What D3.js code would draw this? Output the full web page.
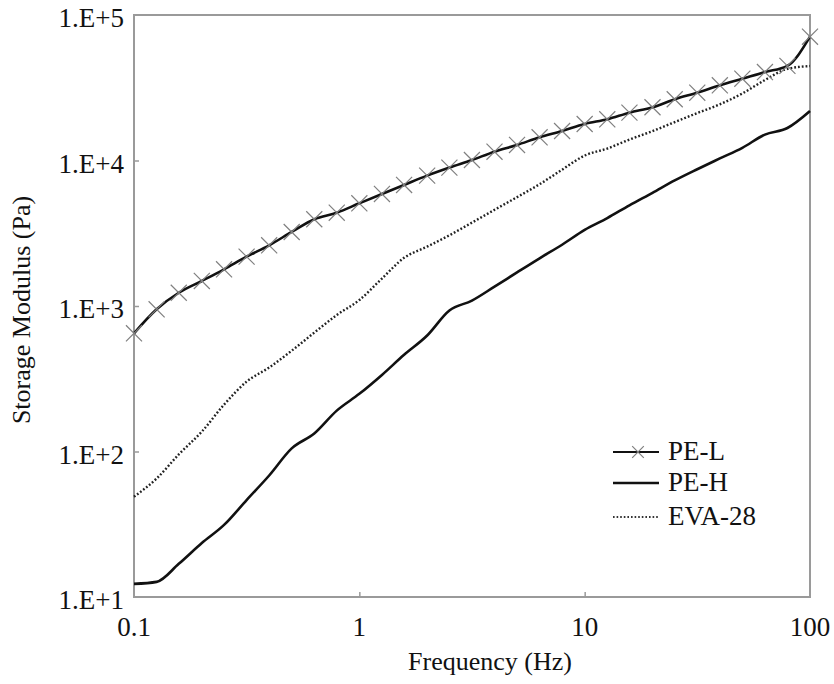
<!DOCTYPE html>
<html>
<head>
<meta charset="utf-8">
<script src="https://cdn.jsdelivr.net/npm/d3@7"></script>
<style>
  body { margin: 0; background: #fff; }
</style>
</head>
<body>
<svg id="chart" width="834" height="684"></svg>
<script>
'use strict';

// frequency grid (Hz), 10 points per decade
const freq = [0.1, 0.126, 0.158, 0.2, 0.251, 0.316, 0.398, 0.501, 0.631, 0.794,
  1, 1.26, 1.58, 2, 2.51, 3.16, 3.98, 5.01, 6.31, 7.94,
  10, 12.6, 15.8, 20, 25.1, 31.6, 39.8, 50.1, 63.1, 79.4, 100];

// storage modulus (Pa)
const peL = [649, 949, 1233, 1486, 1787, 2183, 2614, 3226, 3946, 4378,
  5080, 5890, 6792, 7870, 8932, 10080, 11490, 12790, 14430, 15950,
  17820, 19200, 21320, 23220, 26360, 29250, 32880, 36500, 40560, 44700, 70960];
const peH = [12.3, 12.7, 16.9, 23.5, 31.3, 46.4, 68.4, 105, 133, 191,
  249, 336, 462, 627, 931, 1089, 1358, 1702, 2128, 2636,
  3334, 4018, 4920, 5998, 7295, 8710, 10330, 12230, 15070, 16720, 21880];
const eva = [48.9, 65.2, 95.5, 137, 210, 302, 378, 493, 656, 867,
  1099, 1545, 2143, 2559, 3062, 3741, 4581, 5598, 6871, 8650,
  10820, 12080, 13930, 15920, 18360, 21190, 24320, 28900, 35730, 42660, 44570];

const xTicks = [0.1, 1, 10, 100];
const yTicks = [1e1, 1e2, 1e3, 1e4, 1e5];
const yTickLabels = ['1.E+1', '1.E+2', '1.E+3', '1.E+4', '1.E+5'];
const seriesNames = ['PE-L', 'PE-H', 'EVA-28'];

const margin = { left: 134, right: 24, top: 15, bottom: 87 };
const width = 834, height = 684;
const font = '"Liberation Serif", "DejaVu Serif", serif';

const svg = d3.select('#chart')
  .attr('font-family', font)
  .attr('fill', '#111');

const x = d3.scaleLog()
  .domain([0.1, 100])
  .range([margin.left, width - margin.right]);

const y = d3.scaleLog()
  .domain([10, 1e5])
  .range([height - margin.bottom, margin.top]);

const axisColor = '#9a9a9a';

// frame
svg.append('rect')
  .attr('x', x.range()[0])
  .attr('y', y.range()[1])
  .attr('width', x.range()[1] - x.range()[0])
  .attr('height', y.range()[0] - y.range()[1])
  .attr('fill', 'none')
  .attr('stroke', axisColor)
  .attr('stroke-width', 2);

// y axis (inward ticks)
const yAxis = svg.append('g')
  .attr('transform', `translate(${x.range()[0]},0)`)
  .call(d3.axisRight(y)
    .tickValues(yTicks.slice(1, -1))
    .tickSize(5)
    .tickFormat(''));
yAxis.select('.domain').remove();
yAxis.selectAll('line').attr('stroke', axisColor).attr('stroke-width', 1.5);

svg.append('g')
  .selectAll('text')
  .data(yTicks)
  .enter().append('text')
  .attr('x', x.range()[0] - 10)
  .attr('y', d => y(d) + 3)
  .attr('text-anchor', 'end')
  .attr('dominant-baseline', 'central')
  .attr('font-family', font)
  .style('font-size', '27px')
  .text((d, i) => yTickLabels[i]);

// x axis (inward ticks)
const xAxis = svg.append('g')
  .attr('transform', `translate(0,${y.range()[0]})`)
  .call(d3.axisTop(x)
    .tickValues(xTicks.slice(1, -1))
    .tickSize(5)
    .tickFormat(''));
xAxis.select('.domain').remove();
xAxis.selectAll('line').attr('stroke', axisColor).attr('stroke-width', 1.5);

svg.append('g')
  .selectAll('text')
  .data(xTicks)
  .enter().append('text')
  .attr('x', d => x(d))
  .attr('y', 636)
  .attr('text-anchor', 'middle')
  .attr('font-family', font)
  .style('font-size', '27px')
  .text(d => d3.format('~g')(d));

// axis titles
svg.append('text')
  .attr('x', 490)
  .attr('y', 670)
  .attr('text-anchor', 'middle')
  .attr('font-family', font)
  .style('font-size', '26px')
  .text('Frequency (Hz)');

svg.append('text')
  .attr('transform', 'translate(30,310) rotate(-90)')
  .attr('text-anchor', 'middle')
  .attr('font-family', font)
  .style('font-size', '26px')
  .text('Storage Modulus (Pa)');

// curves
const line = d3.line()
  .x(d => x(d[0]))
  .y(d => y(d[1]))
  .curve(d3.curveMonotoneX);

const zip = vals => freq.map((f, i) => [f, vals[i]]);

svg.append('path')
  .datum(zip(eva))
  .attr('fill', 'none')
  .attr('stroke', '#222')
  .attr('stroke-width', 2.4)
  .attr('stroke-dasharray', '1.8,2')
  .attr('d', line);

svg.append('path')
  .datum(zip(peH))
  .attr('fill', 'none')
  .attr('stroke', '#111')
  .attr('stroke-width', 2.6)
  .attr('d', line);

svg.append('path')
  .datum(zip(peL))
  .attr('fill', 'none')
  .attr('stroke', '#111')
  .attr('stroke-width', 2.6)
  .attr('d', line);

const cross = d3.symbol().type(d3.symbolX).size(170);

svg.append('g')
  .selectAll('path')
  .data(zip(peL))
  .enter().append('path')
  .attr('transform', d => `translate(${x(d[0])},${y(d[1])})`)
  .attr('d', cross)
  .attr('fill', 'none')
  .attr('stroke', '#808080')
  .attr('stroke-width', 1.2);

// legend
const legend = svg.append('g')
  .attr('transform', 'translate(613,452)');

const rowY = [0, 31, 65];

legend.selectAll('text')
  .data(seriesNames)
  .enter().append('text')
  .attr('x', 55)
  .attr('y', (d, i) => rowY[i] + 8)
  .attr('font-family', font)
  .style('font-size', '27px')
  .text(d => d);

legend.append('line')
  .attr('x1', 0).attr('x2', 46)
  .attr('y1', rowY[0]).attr('y2', rowY[0])
  .attr('stroke', '#111').attr('stroke-width', 2.2);
legend.append('path')
  .attr('transform', `translate(25,${rowY[0]})`)
  .attr('d', d3.symbol().type(d3.symbolX).size(90))
  .attr('fill', 'none')
  .attr('stroke', '#808080')
  .attr('stroke-width', 1.2);

legend.append('line')
  .attr('x1', 0).attr('x2', 46)
  .attr('y1', rowY[1]).attr('y2', rowY[1])
  .attr('stroke', '#111').attr('stroke-width', 2.6);

legend.append('line')
  .attr('x1', 0).attr('x2', 46)
  .attr('y1', rowY[2]).attr('y2', rowY[2])
  .attr('stroke', '#333').attr('stroke-width', 2)
  .attr('stroke-dasharray', '1.6,2');
</script>
</body>
</html>
